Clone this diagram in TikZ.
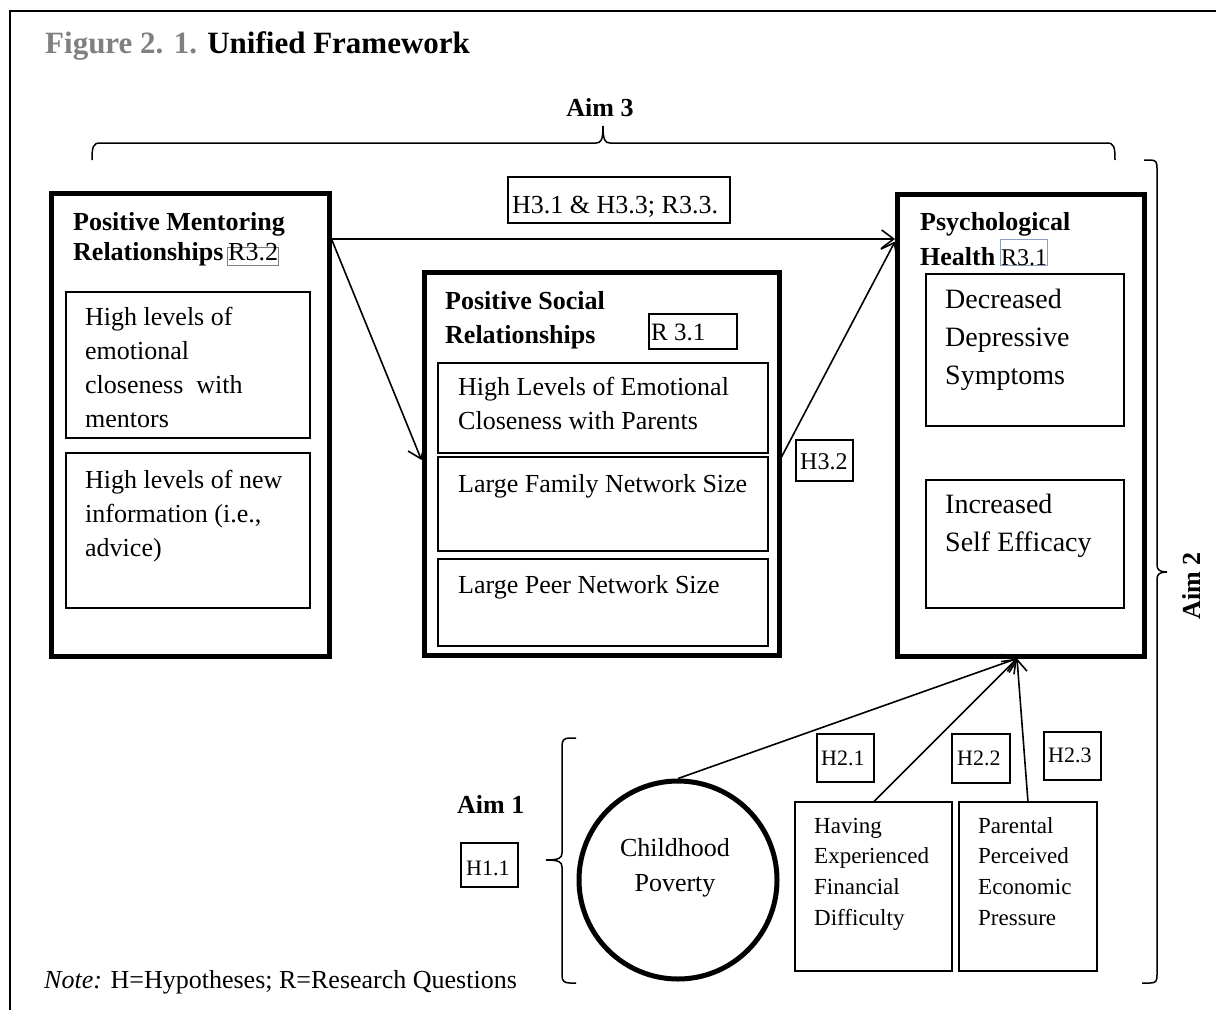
\documentclass[tikz,border=0pt]{standalone}
\usepackage{fontspec}
\setmainfont{Liberation Serif}
\usetikzlibrary{arrows.meta,calc}
\definecolor{figgray}{RGB}{128,128,128}
\definecolor{tagblue}{RGB}{140,160,190}
\newcommand\linesl[1]{\begin{tabular}[t]{@{}l@{}}#1\end{tabular}}
\newcommand\linesc[1]{\begin{tabular}[t]{@{}c@{}}#1\end{tabular}}
\begin{document}
\begin{tikzpicture}[x={(1pt,0)}, y={(0,-1pt)},
  every node/.style={inner sep=0},
  grpbox/.style={draw, line width=5pt, rectangle},
  itembox/.style={draw, line width=1.3pt, rectangle, anchor=north west, outer sep=0},
  tagbox/.style={draw, line width=1.3pt, rectangle, anchor=north west, outer sep=0},
  txt/.style={anchor=base west, font=\fontsize{26}{34}\selectfont},
  bigtxt/.style={anchor=base west, font=\fontsize{28}{38}\selectfont},
  smalltxt/.style={anchor=base west, font=\fontsize{23}{30.7}\selectfont},
  tagtxt/.style={anchor=base west, font=\fontsize{24}{28}\selectfont},
  headtxt/.style={anchor=base west, font=\fontsize{26}{30}\selectfont\bfseries},
  link/.style={line width=1.6pt, -{Straight Barb[length=12pt,width=18pt]}},
  curly/.style={line width=1.5pt}
]
\useasboundingbox (0,0) rectangle (1216,1010);
\fill[white] (0,0) rectangle (1216,1010);

% outer frame
\draw[line width=1.6pt] (10,1010) -- (10,11) -- (1216,11);

% heading
\node[anchor=base west, font=\fontsize{31}{36}\selectfont\bfseries] (title) at (45,53)
  {\textcolor{figgray}{Figure 2. 1.} Unified Framework};

% Aim 3 brace
\node[anchor=base, font=\fontsize{26}{30}\selectfont\bfseries] (aim3) at (600,116) {Aim 3};
\draw[curly] (92,160) .. controls (92,147) and (93,143) .. (100,143) -- (596,143)
  .. controls (601,143) and (603,140) .. (603,126)
  .. controls (603,140) and (605,143) .. (610,143) -- (1107,143)
  .. controls (1114,143) and (1115,147) .. (1115,160);

% Aim 2 brace
\draw[curly] (1144,160) -- (1150,160) .. controls (1156,160) and (1157,162) .. (1157,168)
  -- (1157,565) .. controls (1157,570) and (1160,572) .. (1167,572)
  .. controls (1160,572) and (1157,574) .. (1157,579)
  -- (1157,975) .. controls (1157,981) and (1156,983) .. (1150,983) -- (1142,983);
\node[rotate=90, anchor=base, font=\fontsize{26}{30}\selectfont\bfseries] (aim2) at (1200,586) {Aim 2};

% mentoring group
\node[grpbox, minimum width=278, minimum height=463] (mentor) at (190,424.5) {};
\node[headtxt] (mentor-head) at (73,230) {\linesl{Positive Mentoring\\Relationships}};
\node[tagbox, draw=gray, line width=1pt, minimum width=51, minimum height=18] (r32) at (227,247) {};
\node[txt] (r32-t) at (228,260) {R3.2};
\node[itembox, minimum width=244, minimum height=146] (m1) at (66,292) {};
\node[txt] (m1-t) at (85,325) {\linesl{High levels of\\emotional\\closeness\ \ with\\mentors}};
\node[itembox, minimum width=244, minimum height=155] (m2) at (66,453) {};
\node[txt] (m2-t) at (85,488) {\linesl{High levels of new\\information (i.e.,\\advice)}};

% social group
\node[grpbox, minimum width=355, minimum height=383] (social) at (601.5,463.5) {};
\node[headtxt, font=\fontsize{26}{34}\selectfont\bfseries] (social-head) at (445,309) {\linesl{Positive Social\\Relationships}};
\node[tagbox, minimum width=88, minimum height=35] (r31s) at (649,314) {};
\node[tagtxt, font=\fontsize{25}{28}\selectfont] (r31s-t) at (651,340) {R 3.1};
\node[itembox, minimum width=330, minimum height=90] (s1) at (438,363) {};
\node[txt] (s1-t) at (458,395) {\linesl{High Levels of Emotional\\Closeness with Parents}};
\node[itembox, minimum width=330, minimum height=94] (s2) at (438,457) {};
\node[txt] (s2-t) at (458,492) {Large Family Network Size};
\node[itembox, minimum width=330, minimum height=87] (s3) at (438,559) {};
\node[txt] (s3-t) at (458,593) {Large Peer Network Size};

% psychological health group
\node[grpbox, minimum width=247, minimum height=462] (psych) at (1021,425) {};
\node[headtxt, font=\fontsize{26}{35}\selectfont\bfseries] (psych-head) at (920,230) {\linesl{Psychological\\Health}};
\node[tagbox, draw=tagblue, line width=1pt, minimum width=47, minimum height=26] (r31p) at (1000,239) {};
\node[tagtxt] (r31p-t) at (1001,265) {R3.1};
\node[itembox, minimum width=198, minimum height=152] (p1) at (926,274) {};
\node[bigtxt] (p1-t) at (945,308) {\linesl{Decreased\\Depressive\\Symptoms}};
\node[itembox, minimum width=198, minimum height=128] (p2) at (926,480) {};
\node[bigtxt] (p2-t) at (945,513) {\linesl{Increased\\Self Efficacy}};

% hypothesis tags on the upper paths
\node[tagbox, minimum width=222, minimum height=46] (h313) at (508,177) {};
\node[txt] (h313-t) at (512,213) {H3.1 \& H3.3; R3.3.};
\node[tagbox, minimum width=57, minimum height=41] (h32) at (796,440) {};
\node[tagtxt] (h32-t) at (800,469) {H3.2};

% upper paths
\coordinate (mentor-out) at ($(mentor.north east)+(0,48.5)$);
\draw[link] (mentor-out) -- ($(psych.north west)+(0,47.5)$);
\draw[link] (mentor-out) -- ($(social.north west)+(0,190.5)$);
\draw[link] ($(social.north east)+(0,187.5)$) -- ($(psych.north west)+(0,50)$);

% Aim 1 brace and economic factors
\node[headtxt] (aim1) at (457,813) {Aim 1};
\node[tagbox, minimum width=57, minimum height=44] (h11) at (461,843) {};
\node[tagtxt, font=\fontsize{22}{26}\selectfont] (h11-t) at (466,875) {H1.1};
\draw[curly] (576,738) -- (570,738) .. controls (564,738) and (562,740) .. (562,746)
  -- (562,853) .. controls (562,858) and (559,860) .. (546,860)
  .. controls (559,860) and (562,862) .. (562,867)
  -- (562,975) .. controls (562,981) and (564,983) .. (570,983) -- (576,983);

\node[circle, draw, line width=5pt, minimum size=198] (poverty) at (678,880) {};
\node[anchor=base, font=\fontsize{26}{35}\selectfont] (poverty-t) at (675,856) {\linesc{Childhood\\Poverty}};
\node[itembox, minimum width=157, minimum height=169] (having) at (795,802) {};
\node[smalltxt] (having-t) at (814,833) {\linesl{Having\\Experienced\\Financial\\Difficulty}};
\node[itembox, minimum width=138, minimum height=169] (parental) at (959,802) {};
\node[smalltxt] (parental-t) at (978,833) {\linesl{Parental\\Perceived\\Economic\\Pressure}};

\node[tagbox, minimum width=57, minimum height=48] (h21) at (817,734) {};
\node[tagtxt, font=\fontsize{22}{26}\selectfont] (h21-t) at (821,765) {H2.1};
\node[tagbox, minimum width=58, minimum height=49] (h22) at (952,734) {};
\node[tagtxt, font=\fontsize{22}{26}\selectfont] (h22-t) at (957,765) {H2.2};
\node[tagbox, minimum width=57, minimum height=48] (h23) at (1044,732) {};
\node[tagtxt, font=\fontsize{22}{26}\selectfont] (h23-t) at (1048,762) {H2.3};

% lower paths
\coordinate (psych-in) at ($(psych.south)+(-4,0)$);
\draw[link] (poverty.north) -- (psych-in);
\draw[link] (having.north) -- (psych-in);
\draw[link] (parental.north) -- (psych-in);

% note
\node[txt] (note) at (44,988) {\textit{Note:} H=Hypotheses; R=Research Questions};
\end{tikzpicture}
\end{document}
